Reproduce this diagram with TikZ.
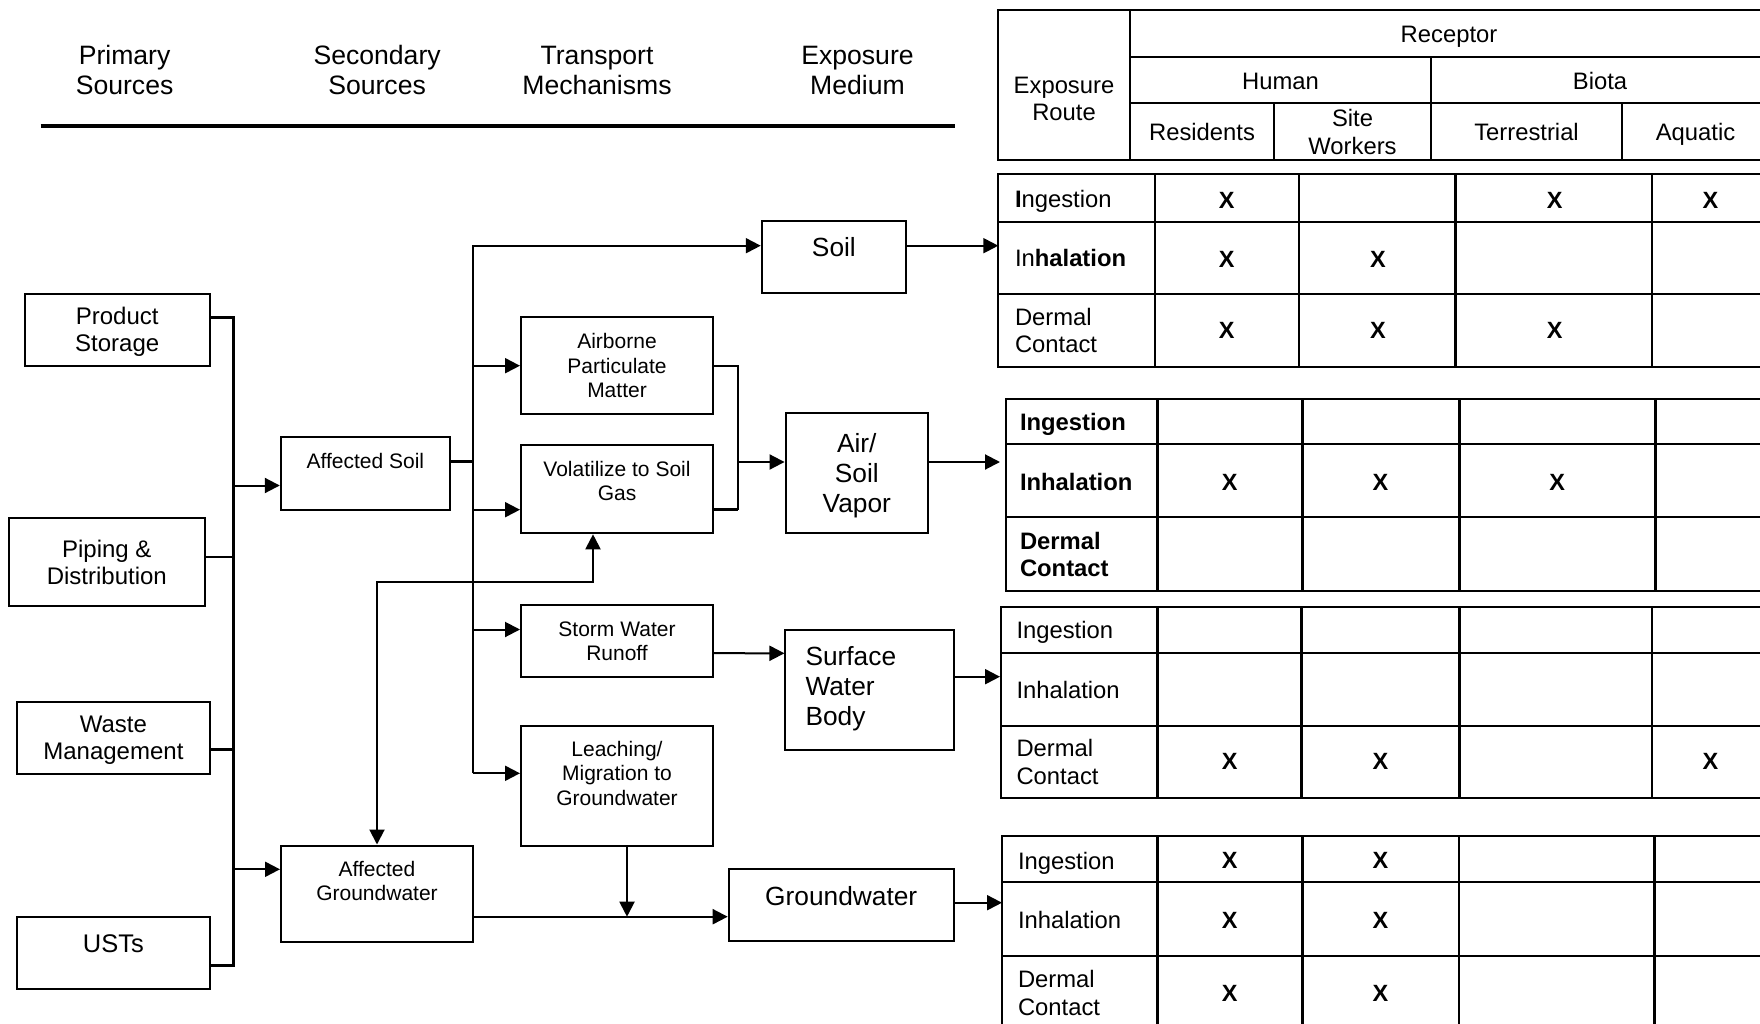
\documentclass[tikz,border=0pt]{standalone}
\usepackage{fontspec}
\setmainfont{Liberation Sans}
\usetikzlibrary{arrows.meta}

\begin{document}
\begin{tikzpicture}[>={Triangle[length=15pt, width=15pt]}, line width=2pt,
    x=1pt, y=-1pt,
    box/.style={draw, inner sep=0pt, align=center, text depth=0pt},
    srcfont/.style={font=\fontsize{24}{27}\selectfont},
    mechfont/.style={font=\fontsize{21}{24.5}\selectfont},
    medfont/.style={font=\fontsize{26.3}{30}\selectfont},
    headfont/.style={font=\fontsize{26.6}{30}\selectfont},
    txt/.style={inner sep=0pt, align=center, text depth=0pt},
    cell/.style={txt, font=\fontsize{23.8}{27.7}\selectfont},
    route/.style={cell, anchor=west, align=left},
    routeb/.style={route, font=\fontsize{23.8}{27.7}\selectfont\bfseries},
    xmark/.style={txt, font=\fontsize{23.5}{26}\selectfont\bfseries},
    tabline/.style={line width=2.3pt},
    bus/.style={line width=2.7pt}]
    \useasboundingbox (0,0) rectangle (1760,1024);
    \clip (0,0) rectangle (1760,1024);

    % column heads
    \node[txt, headfont] (h-prim) at (124.6,70) {Primary\\Sources};
    \node[txt, headfont] (h-sec) at (377.1,70) {Secondary\\Sources};
    \node[txt, headfont] (h-trn) at (597,70) {Transport\\Mechanisms};
    \node[txt, headfont] (h-med) at (857.5,70) {Exposure\\Medium};
    \coordinate (rule-l) at (40.5,126);
    \coordinate (rule-r) at (954.5,126);
    \draw[line width=4pt] (rule-l) -- (rule-r);

    % primary sources
    \node[box, srcfont, minimum width=185pt, minimum height=72pt]
      (ps) at (117.2,329.5) {Product\\Storage};
    \node[box, srcfont, minimum width=195.5pt, minimum height=88.5pt]
      (pd) at (106.8,561.8) {Piping \&\\Distribution};
    \node[box, srcfont, minimum width=192.8pt, minimum height=72pt]
      (wm) at (113.4,737.6) {Waste\\Management};
    \node[box, minimum width=192.8pt, minimum height=72.3pt]
      (ust) at (113.4,953.3) {};
    \node[txt, font=\fontsize{25.5}{29}\selectfont] (ust-t) at (113.4,943.7) {USTs};

    % secondary sources
    \node[box, minimum width=169.2pt, minimum height=72.5pt]
      (as) at (365.4,473.7) {};
    \node[txt, mechfont] (as-t) at (365.4,460.5) {Affected Soil};
    \node[box, minimum width=192pt, minimum height=96pt]
      (ag) at (377,893.5) {};
    \node[txt, mechfont] (ag-t) at (377,881) {Affected\\Groundwater};

    % transport mechanisms
    \node[box, mechfont, minimum width=192pt, minimum height=96.5pt]
      (apm) at (617,365.7) {Airborne\\Particulate\\Matter};
    \node[box, minimum width=192pt, minimum height=88pt]
      (vol) at (617,489.3) {};
    \node[txt, mechfont] (vol-t) at (617,480.8) {Volatilize to Soil\\Gas};
    \node[box, mechfont, minimum width=192pt, minimum height=72.5pt]
      (swr) at (617,641.2) {Storm Water\\Runoff};
    \node[box, minimum width=192pt, minimum height=120pt]
      (lch) at (617,785.5) {};
    \node[txt, mechfont] (lch-t) at (617,773.3) {Leaching/\\Migration to\\Groundwater};

    % exposure media
    \node[box, minimum width=144.3pt, minimum height=71.7pt]
      (soil) at (833.9,257.3) {};
    \node[txt, medfont] (soil-t) at (833.9,247.3) {Soil};
    \node[box, medfont, minimum width=142.5pt, minimum height=120pt]
      (asv) at (856.8,473.2) {Air/\\Soil\\Vapor};
    \node[box, minimum width=168.5pt, minimum height=120pt]
      (swb) at (869.7,689.5) {};
    \node[txt, medfont, anchor=west, align=left] (swb-t) at (804.5,685.8) {Surface\\Water\\Body};
    \node[box, minimum width=225pt, minimum height=72pt]
      (gw) at (841.2,905) {};
    \node[txt, medfont] (gw-t) at (841.2,895.8) {Groundwater};

    % primary bus
    \coordinate (pb-top) at (233.4,317.7);
    \coordinate (pb-bot) at (233.4,965.7);
    \coordinate (j-pd) at (233.4,557);
    \coordinate (j-wm) at (233.4,749.7);
    \coordinate (j-as) at (233.4,485.5);
    \coordinate (j-ag) at (233.4,869.3);
    \draw[bus] (ps.east |- pb-top) -- (pb-top) -- (pb-bot) -- (ust.east |- pb-bot);
    \draw[bus] (pd.east |- j-pd) -- (j-pd);
    \draw[bus] (wm.east |- j-wm) -- (j-wm);
    \draw[->] (j-as) -- (as.west |- j-as);
    \draw[->] (j-ag) -- (ag.west |- j-ag);

    % transport bus
    \coordinate (tb-top) at (473,245.7);
    \coordinate (tb-bot) at (473,773.3);
    \coordinate (tb-as) at (473,461.3);
    \coordinate (tb-vol) at (473,509.7);
    \coordinate (tb-swr) at (473,629.5);
    \draw[bus] (as.east |- tb-as) -- (tb-as);
    \draw[->] (tb-bot) -- (tb-top) -- (soil.west |- tb-top);
    \draw[->] (tb-top |- apm.west) -- (apm.west);
    \draw[->] (tb-vol) -- (vol.west |- tb-vol);
    \draw[->] (tb-swr) -- (swr.west |- tb-swr);
    \draw[->] (tb-bot) -- (lch.west |- tb-bot);

    % air pathways merge
    \coordinate (mg-top) at (737.9,365.7);
    \coordinate (mg-bot) at (737.9,509.7);
    \coordinate (mg-out) at (737.9,462);
    \draw (apm.east) -- (mg-top) -- (mg-bot);
    \draw[bus] (vol.east |- mg-bot) -- (mg-bot);
    \draw[->] (mg-out) -- (asv.west |- mg-out);

    % groundwater links
    \coordinate (gv) at (593,581.7);
    \draw[<->] (ag.north) |- (gv) -- (gv |- vol.south);
    \coordinate (lj) at (627,916.7);
    \draw[->] (lch.south -| lj) -- (lj);
    \draw[->] (ag.east |- lj) -- (gw.west |- lj);
    \draw[->] ([yshift=-12pt]swr.east) -- ([yshift=36.2pt]swb.west);

    % into the tables
    \coordinate (tab1) at (998.3,245.7);
    \coordinate (tab2) at (1000,462);
    \coordinate (tab3) at (1000,676.7);
    \coordinate (tab4) at (1002,902.7);
    \draw[->] (soil.east |- tab1) -- (tab1);
    \draw[->] (asv.east |- tab2) -- (tab2);
    \draw[->] (swb.east |- tab3) -- (tab3);
    \draw[->] (gw.east |- tab4) -- (tab4);

    % receptor header
    \draw[tabline] (998.3,10) rectangle (1769,160);
    \draw[tabline] (1130,10) -- (1130,160);
    \draw[tabline] (1130,56.7) -- (1769,56.7) (1130,102.7) -- (1769,102.7);
    \draw[tabline] (1431,56.7) -- (1431,160);
    \draw[tabline] (1274,102.7) -- (1274,160) (1622,102.7) -- (1622,160);
    \node[cell] (r-route) at (1064,98.9) {Exposure\\Route};
    \node[cell] (r-rec) at (1449,34.2) {Receptor};
    \node[cell] (r-hum) at (1280.5,81) {Human};
    \node[cell] (r-bio) at (1600,81) {Biota};
    \node[cell] (r-res) at (1202,131.7) {Residents};
    \node[cell] (r-site) at (1352.5,131.7) {Site\\Workers};
    \node[cell] (r-ter) at (1526.5,131.7) {Terrestrial};
    \node[cell] (r-aqu) at (1695.5,131.7) {Aquatic};

    % route tables
    \foreach \xl/\yt/\ya/\yb/\ye/\ca/\cb/\cc/\cd in {
        998.3/174.3/221.7/294/366.7/1155/1299/1455.6/1652,
        1006/399/444.3/517.3/590.7/1157.5/1302.4/1459.5/1655.5,
        1000.8/607.3/652.7/726/797.7/1157.5/1301.4/1459.5/1652,
        1002.3/835.7/882.3/955.7/1029/1157.5/1302.4/1459/1654.5}{
      \draw[tabline] (\xl,\yt) rectangle (1769,\ye);
      \draw[tabline] (\xl,\ya) -- (1769,\ya) (\xl,\yb) -- (1769,\yb);
      \foreach \c in {\ca,\cb,\cc,\cd}
        \draw[tabline] (\c,\yt) -- (\c,\ye);
    }
    \node[route] (t1-ing) at (1014,198.7) {\textbf{I}ngestion};
    \node[route] (t1-inh) at (1014,258) {In\textbf{halation}};
    \node[route] (t1-der) at (1014,330.5) {Dermal\\Contact};
    \node[routeb] (t2-ing) at (1019,421.7) {Ingestion};
    \node[routeb] (t2-inh) at (1019,481.7) {Inhalation};
    \node[routeb] (t2-der) at (1019,554.3) {Dermal\\Contact};
    \node[route] (t3-ing) at (1015.5,630) {Ingestion};
    \node[route] (t3-inh) at (1015.5,690) {Inhalation};
    \node[route] (t3-der) at (1015.5,762) {Dermal\\Contact};
    \node[route] (t4-ing) at (1017,860.8) {Ingestion};
    \node[route] (t4-inh) at (1017,920) {Inhalation};
    \node[route] (t4-der) at (1017,992.8) {Dermal\\Contact};

    % marks
    \foreach \p [count=\i] in {(1226.7,200), (1554.8,200), (1710.5,200),
        (1226.7,259.2), (1378,259.2), (1226.7,330.8), (1378,330.8),
        (1554.8,330.8), (1229.7,482.5), (1380.5,482.5), (1557.3,482.5),
        (1229.7,761.3), (1380.5,761.3), (1710.5,761.3),
        (1229.7,860.8), (1380.5,860.8), (1229.7,920.8), (1380.5,920.8),
        (1229.7,993.3), (1380.5,993.3)}
      \node[xmark] (x\i) at \p {X};
  \end{tikzpicture}
\end{document}
